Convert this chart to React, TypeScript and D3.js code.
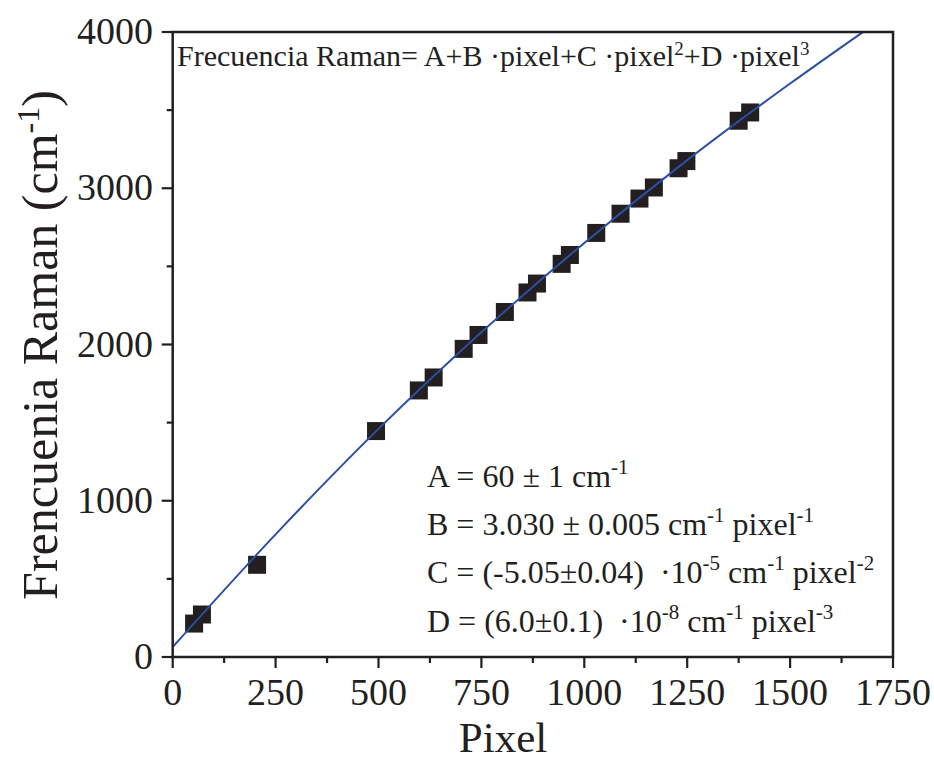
import * as d3 from "d3";
import React from "react";

// measured squares (pixel, Raman shift cm-1)
const pixels = [52, 71, 205, 494, 598, 634, 707, 743, 807, 862, 885, 945, 965, 1029, 1088, 1134, 1169, 1229, 1248, 1375, 1403];
const raman = [214, 272, 590, 1446, 1706, 1789, 1972, 2061, 2208, 2333, 2390, 2516, 2573, 2714, 2837, 2934, 3005, 3128, 3174, 3432, 3485];

// fitted curve
const fitPixels = [0, 250, 500, 750, 1000, 1250, 1500, 1677];
const fitRaman = [64, 785, 1460, 2078, 2650, 3180, 3670, 4000];

const xTicks = [0, 250, 500, 750, 1000, 1250, 1500, 1750];
const yTicks = [0, 1000, 2000, 3000, 4000];

const W = 934;
const H = 763;
const left = 172.7, right = 893, top = 32, bottom = 657;
const ink = "#231f20";
const font = "'Liberation Serif', 'Times New Roman', serif";
const sp = "\u00a0";

const App = () => {
  const x = d3.scaleLinear().domain([0, 1750]).range([left, right]);
  const y = d3.scaleLinear().domain([0, 4000]).range([bottom, top]);

  const line = d3.line<number>()
    .x((d, i) => x(fitPixels[i]))
    .y(d => y(d))
    .curve(d3.curveMonotoneX);

  const xMinor = d3.range(125, 1750, 250);
  const yMinor = d3.range(500, 4000, 1000);
  const sq = 18;

  return (
    <svg width={W} height={H} style={{ position: "absolute", left: 0, top: 0, fontFamily: font }}>
      <rect width={W} height={H} fill="#fff" />
      <defs>
        <clipPath id="plot">
          <rect x={left} y={top} width={right - left} height={bottom - top} />
        </clipPath>
      </defs>

      {/* ticks */}
      {xTicks.map(t => (
        <g key={"xt" + t}>
          <line x1={x(t)} x2={x(t)} y1={bottom} y2={bottom + 11} stroke={ink} strokeWidth={2.2} />
          <text x={x(t)} y={705} fontSize={38} textAnchor="middle" fill={ink}>{t}</text>
        </g>
      ))}
      {xMinor.map(t => (
        <line key={"xm" + t} x1={x(t)} x2={x(t)} y1={bottom} y2={bottom + 6} stroke={ink} strokeWidth={2.2} />
      ))}
      {yTicks.map(t => (
        <g key={"yt" + t}>
          <line x1={left - 11} x2={left} y1={y(t)} y2={y(t)} stroke={ink} strokeWidth={2.2} />
          <text x={153} y={y(t) + 12} fontSize={38} textAnchor="end" fill={ink}>{t}</text>
        </g>
      ))}
      {yMinor.map(t => (
        <line key={"ym" + t} x1={left - 6} x2={left} y1={y(t)} y2={y(t)} stroke={ink} strokeWidth={2.2} />
      ))}

      {/* data */}
      <g fill={ink}>
        {pixels.map((p, i) => (
          <rect key={i} x={x(p) - sq / 2} y={y(raman[i]) - sq / 2} width={sq} height={sq} />
        ))}
      </g>
      <path d={line(fitRaman) || ""} fill="none" stroke="#2a4fa3" strokeWidth={2} clipPath="url(#plot)" />

      <rect x={left} y={top} width={right - left} height={bottom - top} fill="none" stroke={ink} strokeWidth={2.5} />

      {/* equation */}
      <text x={177} y={66} fontSize={30} fill={ink}>
        Frecuencia Raman= A+B ·pixel+C ·pixel<tspan dy={-11} fontSize={19}>2</tspan><tspan dy={11}>+D ·pixel</tspan><tspan dy={-11} fontSize={19}>3</tspan>
      </text>

      <g fontSize={32} fill={ink}>
        <text x={427} y={487}>
          A = 60 ± 1 cm<tspan dy={-13} fontSize={21}>-1</tspan>
        </text>
        <text x={427} y={535}>
          B = 3.030 ± 0.005 cm<tspan dy={-13} fontSize={21}>-1</tspan><tspan dy={13}> pixel</tspan><tspan dy={-13} fontSize={21}>-1</tspan>
        </text>
        <text x={427} y={583}>
          {`C = (-5.05±0.04)${sp} ·10`}<tspan dy={-13} fontSize={21}>-5</tspan><tspan dy={13}> cm</tspan><tspan dy={-13} fontSize={21}>-1</tspan><tspan dy={13}> pixel</tspan><tspan dy={-13} fontSize={21}>-2</tspan>
        </text>
        <text x={427} y={632}>
          {`D = (6.0±0.1)${sp} ·10`}<tspan dy={-13} fontSize={21}>-8</tspan><tspan dy={13}> cm</tspan><tspan dy={-13} fontSize={21}>-1</tspan><tspan dy={13}> pixel</tspan><tspan dy={-13} fontSize={21}>-3</tspan>
        </text>
      </g>

      {/* axis titles */}
      <text x={503} y={752} fontSize={43} textAnchor="middle" fill={ink}>Pixel</text>
      <text transform="translate(57,345) rotate(-90)" fontSize={50} textAnchor="middle" fill={ink}>
        Frencuenia Raman (cm<tspan dy={-18} fontSize={32}>-1</tspan><tspan dy={18}>)</tspan>
      </text>
    </svg>
  );
};

export default App;
